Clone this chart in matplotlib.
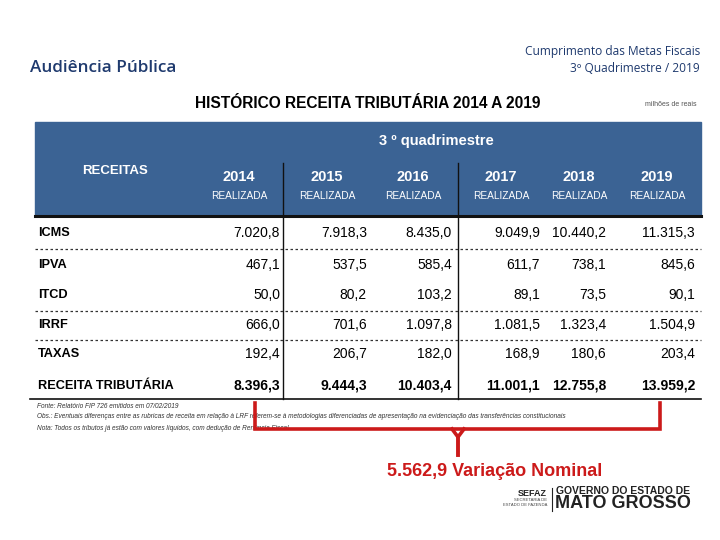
import matplotlib
matplotlib.use("Agg")
import matplotlib.pyplot as plt

# table data (milhões de reais)
years = ["2014", "2015", "2016", "2017", "2018", "2019"]
col_label = "REALIZADA"
rows = ["ICMS", "IPVA", "ITCD", "IRRF", "TAXAS", "RECEITA TRIBUTÁRIA"]
icms = ["7.020,8", "7.918,3", "8.435,0", "9.049,9", "10.440,2", "11.315,3"]
ipva = ["467,1", "537,5", "585,4", "611,7", "738,1", "845,6"]
itcd = ["50,0", "80,2", "103,2", "89,1", "73,5", "90,1"]
irrf = ["666,0", "701,6", "1.097,8", "1.081,5", "1.323,4", "1.504,9"]
taxas = ["192,4", "206,7", "182,0", "168,9", "180,6", "203,4"]
total = ["8.396,3", "9.444,3", "10.403,4", "11.001,1", "12.755,8", "13.959,2"]
values = [icms, ipva, itcd, irrf, taxas, total]
variacao = "5.562,9 Variação Nominal"

footnotes = [
    "Fonte: Relatório FIP 726 emitidos em 07/02/2019",
    "Obs.: Eventuais diferenças entre as rubricas de receita em relação à LRF referem-se à metodologias diferenciadas de apresentação na evidenciação das transferências constitucionais",
    "Nota: Todos os tributos já estão com valores líquidos, com dedução de Renúncia Fiscal",
]

narrow = ["Liberation Sans", "DejaVu Sans"]
slide = ["Open Sans", "DejaVu Sans"]

fig = plt.figure(figsize=(7.2, 5.4), dpi=100)
ax = fig.add_axes([0, 0, 1, 1])
ax.set_xlim(0, 720)
ax.set_ylim(540, 0)
ax.axis("off")

blue_dark = "#1f3a6e"
header_blue = "#3b6394"
red = "#cc1a1a"

# slide header
ax.text(30, 68, "Audiência Pública", family=slide, fontsize=12.3, color=blue_dark,
        fontweight="semibold", va="center")
ax.text(700, 51, "Cumprimento das Metas Fiscais", family=slide, fontsize=8.6,
        color=blue_dark, ha="right", va="center")
ax.text(700, 68, "3º Quadrimestre / 2019", family=slide, fontsize=8.6,
        color=blue_dark, ha="right", va="center")

ax.text(368, 104, "HISTÓRICO RECEITA TRIBUTÁRIA 2014 A 2019", family=narrow,
        fontsize=11.2, fontweight="bold", color="black", ha="center", va="center")
ax.text(697, 104, "milhões de reais", family=narrow, fontsize=5, color="#555555",
        ha="right", va="center")

# header block
ax.add_patch(plt.Rectangle((35, 122), 666, 94, color=header_blue, zorder=1))
ax.plot([35, 701], [216, 216], color="#111111", lw=2.2, zorder=3)
ax.text(436, 141, "3 º quadrimestre", family=narrow, fontsize=10.5, fontweight="bold",
        color="white", ha="center", va="center")
ax.text(115, 171, "RECEITAS", family=narrow, fontsize=9.5, fontweight="bold",
        color="white", ha="center", va="center")

col_centers = [239, 327, 413, 501, 579, 657]
col_right = [280, 367, 452, 540, 606, 695]
for cx, yr in zip(col_centers, years):
    ax.text(cx, 177, yr, family=narrow, fontsize=10.5, fontweight="bold",
            color="white", ha="center", va="center")
    ax.text(cx, 196, col_label, family=narrow, fontsize=7.3, color="white",
            ha="center", va="center")

# separators
for vx in [283, 458]:
    ax.plot([vx, vx], [163, 399], color="#111111", lw=1, zorder=2)
ax.plot([30, 701], [399, 399], color="#111111", lw=1.2)
for dy in [249, 311, 340]:
    ax.plot([35, 701], [dy, dy], color="#333333", lw=0.9, ls=(0, (2, 2)))

# rows
row_y = [233, 265, 295, 325, 354, 386]
for i, (name, vals) in enumerate(zip(rows, values)):
    last = i == len(rows) - 1
    ax.text(38, row_y[i], name, family=narrow, fontsize=9.2, fontweight="bold",
            color="black", va="center")
    for rx, v in zip(col_right, vals):
        ax.text(rx, row_y[i], v, family=narrow, fontsize=10,
                fontweight="bold" if last else "normal", color="black",
                ha="right", va="center")

# footnotes
for k, note in enumerate(footnotes):
    ax.text(37, 406 + k * 11, note, family=narrow, fontsize=4.7, color="#333333",
            style="italic", va="center")

# red bracket
ax.plot([255, 255, 660, 660], [403, 429, 429, 403], color=red, lw=2.6,
        solid_joinstyle="miter", zorder=4)
ax.plot([452, 458, 464], [429, 437, 429], color=red, lw=2.6, zorder=4)
ax.plot([458, 458], [436, 455], color=red, lw=2.8, zorder=4)
ax.text(495, 471, variacao, family=narrow, fontsize=13, fontweight="bold",
        color=red, ha="center", va="center")

# logo
ax.text(547, 493, "SEFAZ", family=narrow, fontsize=6.5, fontweight="bold",
        color="#222222", ha="right", va="center")
ax.text(547, 500, "SECRETARIA DE", family=narrow, fontsize=3, color="#444444",
        ha="right", va="center")
ax.text(547, 505, "ESTADO DE FAZENDA", family=narrow, fontsize=3, color="#444444",
        ha="right", va="center")
ax.plot([552, 552], [488, 511], color="#222222", lw=0.8)
ax.text(556, 491, "GOVERNO DO ESTADO DE", family=narrow, fontsize=7.5,
        fontweight="bold", color="#222222", va="center")
ax.text(555, 504, "MATO GROSSO", family=narrow, fontsize=13,
        fontweight="bold", color="#222222", va="center")

fig.savefig("out.png", dpi=100)
